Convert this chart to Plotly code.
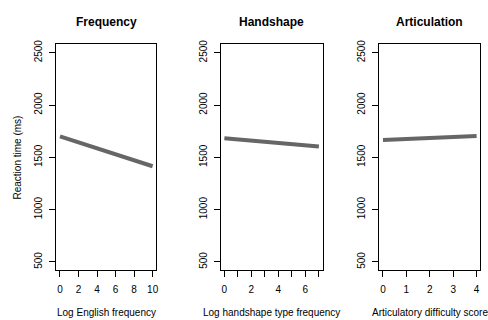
import plotly.graph_objects as go

# Data
panel_titles = ["Frequency", "Handshape", "Articulation"]
x_titles = ["Log English frequency", "Log handshape type frequency", "Articulatory difficulty score"]
freq_x = [0, 10]
freq_rt = [1700, 1415]
hand_x = [0, 7]
hand_rt = [1682, 1603]
artic_x = [0, 4]
artic_rt = [1665, 1703]
y_ticks = [500, 1000, 1500, 2000, 2500]
freq_ticks = [0, 2, 4, 6, 8, 10]
hand_ticks = [0, 1, 2, 3, 4, 5, 6, 7]
hand_ticktext = ["0", "", "2", "", "4", "", "6", ""]
artic_ticks = [0, 1, 2, 3, 4]

W, H = 488, 320
FONT = "Liberation Sans, Arial, Helvetica, sans-serif"

# Panel pixel boxes (left, right) and vertical extent
boxes = [(56.5, 157.0), (221.5, 324.0), (380.8, 482.3)]
top_px, bot_px = 40.0, 269.5

fig = go.Figure()
series = [(freq_x, freq_rt), (hand_x, hand_rt), (artic_x, artic_rt)]
for i, (xs, ys) in enumerate(series):
    fig.add_trace(go.Scatter(
        x=xs, y=ys, mode="lines",
        line=dict(color="#666666", width=4),
        xaxis="x" if i == 0 else f"x{i+1}",
        yaxis="y" if i == 0 else f"y{i+1}",
        showlegend=False, hoverinfo="skip"))

def pad(a, b):
    d = b - a
    return [a - 0.04 * d, b + 0.04 * d]

xranges = [pad(0, 10), pad(0, 7), pad(0, 4)]
xtickvals = [freq_ticks, hand_ticks, artic_ticks]
xticktexts = [[str(v) for v in freq_ticks], hand_ticktext, [str(v) for v in artic_ticks]]

ydom = [1 - bot_px / H, 1 - top_px / H]
layout = dict(
    width=W, height=H,
    margin=dict(l=0, r=0, t=0, b=0),
    paper_bgcolor="white", plot_bgcolor="white",
    font=dict(family=FONT, size=10, color="black"),
    annotations=[],
)
axis_common = dict(showline=True, mirror=True, linecolor="black", linewidth=1,
                   showgrid=False, zeroline=False, ticks="outside", ticklen=6,
                   tickwidth=1, tickcolor="black",
                   tickfont=dict(family=FONT, size=10, color="black"))
for i in range(3):
    sx = "" if i == 0 else str(i + 1)
    l, r = boxes[i]
    layout[f"xaxis{sx}"] = dict(axis_common, domain=[l / W, r / W], range=xranges[i],
                                tickmode="array", tickvals=xtickvals[i],
                                ticktext=xticktexts[i], anchor=f"y{sx}",
                                ticklabelstandoff=4)
    layout[f"yaxis{sx}"] = dict(axis_common, domain=ydom, range=[420, 2580],
                                tickmode="array", tickvals=y_ticks,
                                ticktext=[str(v) for v in y_ticks],
                                tickangle=-90, anchor=f"x{sx}",
                                ticklabelstandoff=3)
    cx = (l + r) / 2 / W
    layout["annotations"].append(dict(
        text=f"<b>{panel_titles[i]}</b>", x=cx, y=1 - 17 / H, xref="paper", yref="paper",
        showarrow=False, font=dict(family=FONT, size=12, color="black"),
        xanchor="center", yanchor="middle"))
    layout["annotations"].append(dict(
        text=x_titles[i], x=cx, y=1 - 312.5 / H, xref="paper", yref="paper",
        showarrow=False, font=dict(family=FONT, size=10, color="black"),
        xanchor="center", yanchor="middle"))

layout["annotations"].append(dict(
    text="Reaction time (ms)", x=18 / W, y=1 - 155 / H, xref="paper", yref="paper",
    showarrow=False, textangle=-90, font=dict(family=FONT, size=10, color="black"),
    xanchor="center", yanchor="middle"))

fig.update_layout(**layout)
fig.write_html("out.html", config={"displayModeBar": False},
               post_script="document.body.style.margin='0px';document.body.style.overflow='hidden';")
